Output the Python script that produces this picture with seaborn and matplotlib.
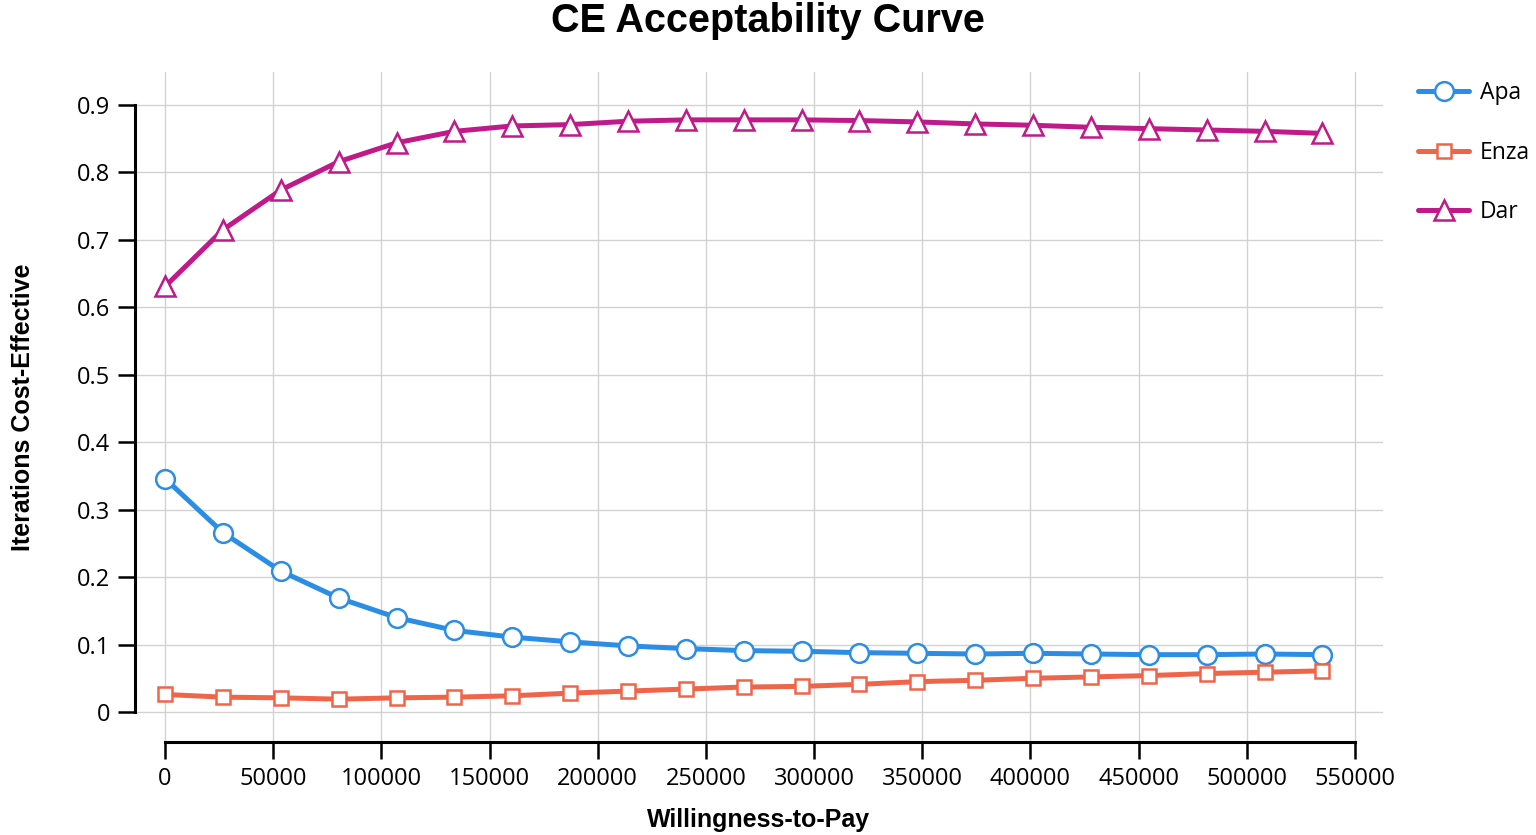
import matplotlib
matplotlib.use("Agg")
import matplotlib.pyplot as plt
import seaborn as sns
import pandas as pd
import numpy as np

wtp = [0, 26750, 53500, 80250, 107000, 133750, 160500, 187250, 214000, 240750,
       267500, 294250, 321000, 347750, 374500, 401250, 428000, 454750, 481500,
       508250, 535000]
apa = [0.346, 0.266, 0.209, 0.169, 0.140, 0.121, 0.111, 0.104, 0.098, 0.094,
       0.091, 0.090, 0.088, 0.087, 0.086, 0.087, 0.086, 0.085, 0.085, 0.086, 0.085]
enza = [0.026, 0.022, 0.021, 0.019, 0.021, 0.022, 0.024, 0.028, 0.031, 0.034,
        0.037, 0.038, 0.041, 0.045, 0.047, 0.050, 0.052, 0.054, 0.057, 0.059, 0.061]
dar = [0.631, 0.715, 0.774, 0.816, 0.844, 0.861, 0.869, 0.871, 0.876, 0.878,
       0.878, 0.878, 0.877, 0.875, 0.872, 0.870, 0.867, 0.865, 0.863, 0.861, 0.858]
series_names = ["Apa", "Enza", "Dar"]
x_ticks = [0, 50000, 100000, 150000, 200000, 250000, 300000, 350000, 400000,
           450000, 500000, 550000]
y_ticks = [0, 0.1, 0.2, 0.3, 0.4, 0.5, 0.6, 0.7, 0.8, 0.9]
y_tick_labels = ["0", "0.1", "0.2", "0.3", "0.4", "0.5", "0.6", "0.7", "0.8", "0.9"]

colors = {"Apa": "#2b8de6", "Enza": "#f0654a", "Dar": "#c0198a"}
markers = {"Apa": "o", "Enza": "s", "Dar": "^"}
msizes = {"Apa": 13.5, "Enza": 10.5, "Dar": 15}

df = pd.DataFrame({
    "wtp": wtp * 3,
    "value": apa + enza + dar,
    "series": ["Apa"] * len(wtp) + ["Enza"] * len(wtp) + ["Dar"] * len(wtp),
})

sns.set_theme(style="white")
plt.rcParams["font.family"] = ["Open Sans", "DejaVu Sans"]

fig = plt.figure(figsize=(15.36, 8.35), dpi=100)
ax = fig.add_axes([135 / 1536, 1 - 742 / 835, 1248 / 1536, 670 / 835])

for name in series_names:
    sub = df[df["series"] == name]
    sns.lineplot(data=sub, x="wtp", y="value", ax=ax, color=colors[name],
                 linewidth=3.6, marker=markers[name], markersize=msizes[name],
                 markerfacecolor="white", markeredgecolor=colors[name],
                 markeredgewidth=1.8, label=name, zorder=3)

ax.set_xlim(-13900, 563000)
ax.set_ylim(-0.0445, 0.949)
ax.set_xticks(x_ticks)
ax.set_xticklabels([str(t) for t in x_ticks])
ax.set_yticks(y_ticks)
ax.set_yticklabels(y_tick_labels)

ax.grid(True, color="#d2d2d2", linewidth=1.0)
ax.set_axisbelow(True)
for s in ["top", "right"]:
    ax.spines[s].set_visible(False)
for s in ["left", "bottom"]:
    ax.spines[s].set_color("black")
    ax.spines[s].set_linewidth(2.2)
ax.spines["left"].set_bounds(0, 0.9)
ax.spines["bottom"].set_bounds(0, 550000)

ax.tick_params(axis="both", which="major", length=12, width=1.8, color="black",
               labelsize=17, labelcolor="black", bottom=True, left=True,
               direction="out", pad=6)

ax.set_xlabel("Willingness-to-Pay", family=["Liberation Sans", "DejaVu Sans"],
              fontweight="bold", fontsize=18, labelpad=12, color="black")
ax.set_ylabel("Iterations Cost-Effective", family=["Liberation Sans", "DejaVu Sans"],
              fontweight="bold", fontsize=18, labelpad=30, color="black")
fig.suptitle("CE Acceptability Curve", family=["Liberation Sans", "DejaVu Sans"],
             fontweight="bold", fontsize=28.5, x=0.5, y=0.998, va="top",
             color="black")

leg = ax.legend(loc="upper left", bbox_to_anchor=(1.021, 1.0), frameon=False,
                fontsize=16.5, handlelength=2.2, labelspacing=1.55,
                handletextpad=0.5, borderaxespad=0)
for t in leg.get_texts():
    t.set_color("black")

fig.savefig("out.png", dpi=100, facecolor="white")
